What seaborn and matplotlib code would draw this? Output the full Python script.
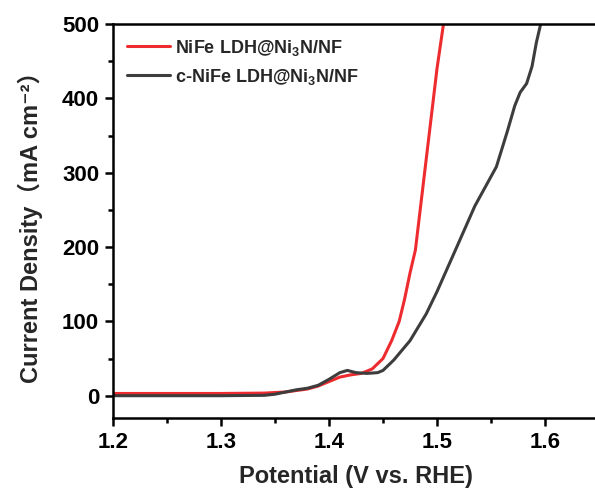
import numpy as np
import pandas as pd
import matplotlib
matplotlib.use("Agg")
import matplotlib.pyplot as plt
import seaborn as sns
from matplotlib.ticker import MultipleLocator

# Data
red_x = [1.20, 1.25, 1.30, 1.34, 1.36, 1.38, 1.39, 1.40, 1.41, 1.42, 1.43, 1.44, 1.45, 1.458, 1.465,
         1.47, 1.475, 1.48, 1.49, 1.50, 1.506]
red_y = [3, 3, 3, 3.5, 5, 9, 13, 19, 25, 28, 30, 36, 50, 74, 100, 130, 165, 196, 318, 440, 500]
black_x = [1.20, 1.30, 1.34, 1.35, 1.36, 1.37, 1.38, 1.39, 1.40, 1.41, 1.417, 1.425, 1.435, 1.445,
           1.45, 1.46, 1.475, 1.49, 1.50, 1.518, 1.535, 1.555, 1.565, 1.572, 1.577, 1.583, 1.588,
           1.592, 1.596]
black_y = [0, 0, 0.5, 2, 5, 8, 10, 14, 22, 31, 34, 31, 30, 31, 34, 48, 74, 110, 140, 199, 255, 308,
           355, 390, 408, 420, 443, 475, 500]
labels = ["NiFe LDH@Ni$_\\mathbf{3}$N/NF", "c-NiFe LDH@Ni$_\\mathbf{3}$N/NF"]
colors = ["#ee2b2f", "#3d3d3d"]

df = pd.concat([
    pd.DataFrame({"x": red_x, "y": red_y, "s": labels[0]}),
    pd.DataFrame({"x": black_x, "y": black_y, "s": labels[1]}),
])

sns.set_theme(style="ticks")
plt.rcParams['font.family'] = ['Liberation Sans', 'DejaVu Sans', 'Noto Sans CJK SC']
plt.rcParams['font.weight'] = 'bold'
plt.rcParams['mathtext.fontset'] = 'custom'
plt.rcParams['mathtext.rm'] = 'Liberation Sans:bold'
plt.rcParams['mathtext.bf'] = 'Liberation Sans:bold'
plt.rcParams['mathtext.it'] = 'Liberation Sans:bold'

fig = plt.figure(figsize=(5.95, 4.97), dpi=100)
ax = fig.add_axes([113/595, 1-418/497, 486/595, (418-24)/497])

sns.lineplot(data=df, x="x", y="y", hue="s", palette=colors, sort=False, estimator=None,
             linewidth=2.2, ax=ax)

ax.set_xlim(1.2, 1.65)
ax.set_ylim(-30, 500)
ax.xaxis.set_major_locator(MultipleLocator(0.1))
ax.xaxis.set_minor_locator(MultipleLocator(0.05))
ax.yaxis.set_major_locator(MultipleLocator(100))
ax.yaxis.set_minor_locator(MultipleLocator(50))
ax.xaxis.set_major_formatter(matplotlib.ticker.FormatStrFormatter('%.1f'))

for s in ["left", "bottom", "top"]:
    ax.spines[s].set_linewidth(1.8)
    ax.spines[s].set_color("black")
ax.spines["right"].set_visible(False)
ax.tick_params(which="major", direction="out", length=6, width=1.8, labelsize=16, pad=4, colors="black")
ax.tick_params(which="minor", direction="out", length=3.5, width=1.8, colors="black")
for t in ax.get_xticklabels() + ax.get_yticklabels():
    t.set_fontweight("bold")

ax.set_xlabel("Potential (V vs. RHE)", fontsize=17, fontweight="bold", labelpad=9)
ax.set_ylabel("Current Density（mA cm⁻²）", fontsize=17, fontweight="bold", labelpad=14)

leg = ax.legend(loc="upper left", frameon=False, handlelength=2.4,
                handletextpad=0.3, borderaxespad=0.35, labelspacing=0.5,
                prop={"weight": "bold", "size": 13})
for line in leg.get_lines():
    line.set_linewidth(2.2)

fig.savefig("out.png", dpi=100)
